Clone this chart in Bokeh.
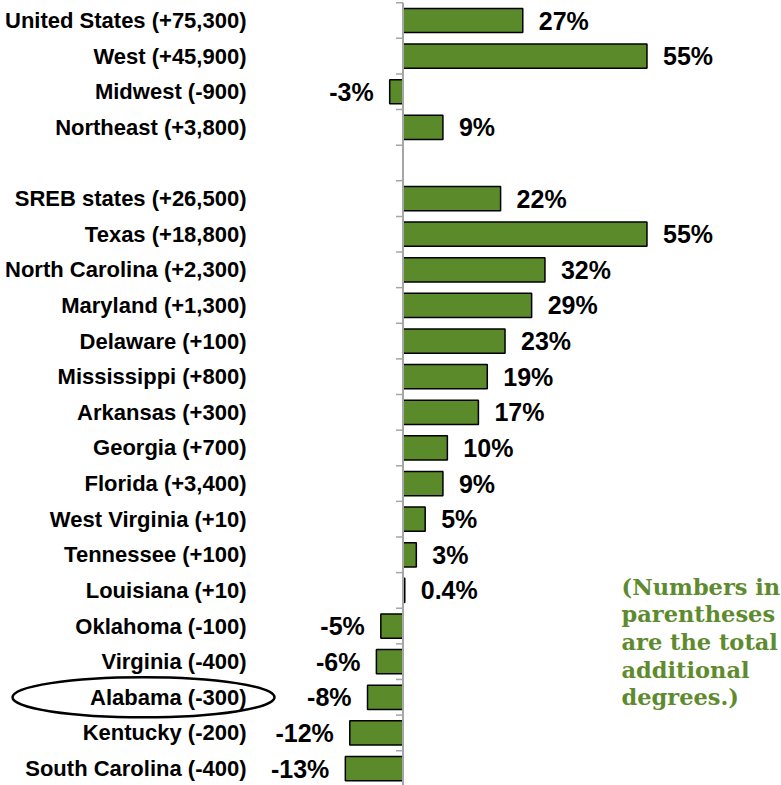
from bokeh.plotting import figure
from bokeh.core.properties import value
from bokeh.models import Range1d
from bokeh.embed import file_html
from bokeh.resources import INLINE

# ---------------- data ----------------
categories = [
    "United States (+75,300)", "West (+45,900)", "Midwest (-900)", "Northeast (+3,800)",
    "SREB states (+26,500)", "Texas (+18,800)", "North Carolina (+2,300)", "Maryland (+1,300)",
    "Delaware (+100)", "Mississippi (+800)", "Arkansas (+300)", "Georgia (+700)",
    "Florida (+3,400)", "West Virginia (+10)", "Tennessee (+100)", "Louisiana (+10)",
    "Oklahoma (-100)", "Virginia (-400)", "Alabama (-300)", "Kentucky (-200)",
    "South Carolina (-400)",
]
pct_change = [27, 55, -3, 9,
              22, 55, 32, 29, 23, 19, 17, 10, 9, 5, 3, 0.4, -5, -6, -8, -12, -13]
value_labels = ["27%", "55%", "-3%", "9%",
                "22%", "55%", "32%", "29%", "23%", "19%", "17%", "10%", "9%", "5%",
                "3%", "0.4%", "-5%", "-6%", "-8%", "-12%", "-13%"]
gap_after = 4          # blank row between regions and SREB states
highlight = "Alabama (-300)"
note_lines = ["(Numbers in", "parentheses", "are the total", "additional", "degrees.)"]

# ---------------- layout ----------------
W, H = 781, 785
PX_PER_PCT = 4.436
ZERO_PX = 402.5
ROW_PX = 35.62
TOP_PX = 20.0

rows = [i if i < gap_after else i + 1 for i in range(len(categories))]
ys = [-r for r in rows]
n_rows = rows[-1] + 1

def px_to_x(px):
    return (px - ZERO_PX) / PX_PER_PCT

x_range = Range1d(px_to_x(0), px_to_x(W))
y_range = Range1d(-(H - TOP_PX) / ROW_PX, TOP_PX / ROW_PX)

p = figure(width=W, height=H, x_range=x_range, y_range=y_range,
           output_backend="svg", toolbar_location=None,
           x_axis_location=None, y_axis_location=None,
           min_border=0, outline_line_color=None)
p.grid.visible = False

BAR_GREEN = "#5A8A2A"
NOTE_GREEN = "#5E8B2E"
AXIS_GRAY = "#A6A6A6"

# bars
p.hbar(y=ys, left=0, right=pct_change, height=0.68,
       fill_color=BAR_GREEN, line_color="black", line_width=1.5)

# central axis line + tick marks between rows
bounds = [-(k - 0.5) for k in range(n_rows + 1)]
p.segment(x0=[0], y0=[bounds[0]], x1=[0], y1=[bounds[-1]],
          line_color=AXIS_GRAY, line_width=2)
p.segment(x0=[px_to_x(ZERO_PX - 7)] * len(bounds), y0=bounds,
          x1=[0] * len(bounds), y1=bounds, line_color=AXIS_GRAY, line_width=1.5)

# category labels
p.text(x=[px_to_x(246)] * len(categories), y=ys, text=categories,
       text_align="right", text_baseline="middle",
       text_font=value("Liberation Sans"), text_font_style="bold",
       text_font_size="22px", text_color="black")

# value labels
pos = [(v, y, t) for v, y, t in zip(pct_change, ys, value_labels) if v >= 0]
neg = [(v, y, t) for v, y, t in zip(pct_change, ys, value_labels) if v < 0]
p.text(x=[a[0] for a in pos], y=[a[1] for a in pos], text=[a[2] for a in pos],
       x_offset=16, text_align="left", text_baseline="middle",
       text_font=value("Liberation Sans"), text_font_style="bold",
       text_font_size="25px", text_color="black")
p.text(x=[a[0] for a in neg], y=[a[1] for a in neg], text=[a[2] for a in neg],
       x_offset=-16, text_align="right", text_baseline="middle",
       text_font=value("Liberation Sans"), text_font_style="bold",
       text_font_size="25px", text_color="black")

# ellipse around highlighted state
hi = ys[categories.index(highlight)]
p.ellipse(x=[px_to_x(143)], y=[hi], width=262, height=40,
          width_units="screen", height_units="screen",
          fill_color=None, line_color="black", line_width=2.5)

# note
note_y0 = -15.89
note_step = 0.778
p.text(x=[px_to_x(621)] * len(note_lines),
       y=[note_y0 - k * note_step for k in range(len(note_lines))],
       text=note_lines, text_align="left", text_baseline="alphabetic",
       text_font=value("DejaVu Serif"), text_font_style="bold",
       text_font_size="22.5px", text_color=NOTE_GREEN)

open("out.html", "w").write(file_html(p, INLINE))
